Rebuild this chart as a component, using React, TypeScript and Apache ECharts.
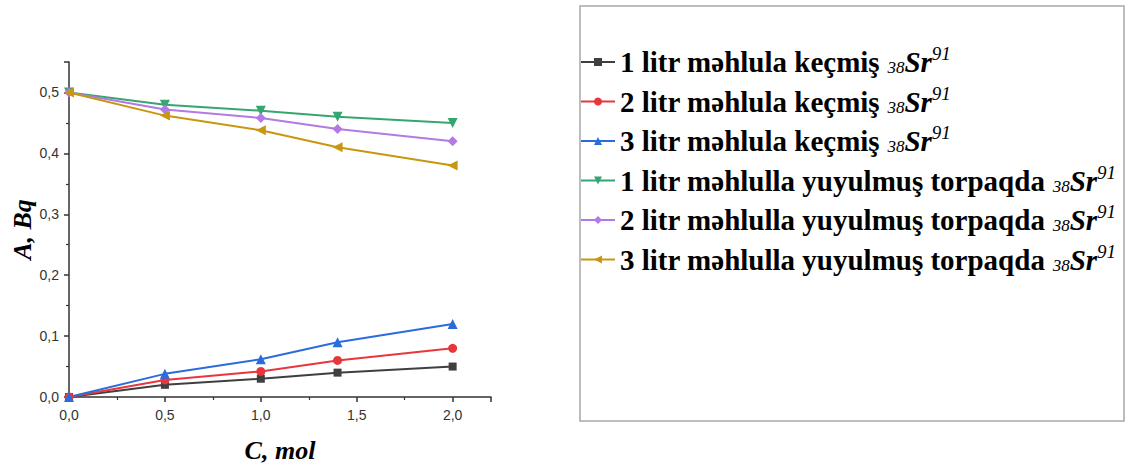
import React, { useEffect, useRef } from "react";
import * as echarts from "echarts";

const xValues = [0, 0.5, 1.0, 1.4, 2.0];

const seriesNames = [
  "1 litr məhlula keçmiş ",
  "2 litr məhlula keçmiş ",
  "3 litr məhlula keçmiş ",
  "1 litr məhlulla yuyulmuş torpaqda ",
  "2 litr məhlulla yuyulmuş torpaqda ",
  "3 litr məhlulla yuyulmuş torpaqda ",
];

const s1 = [0, 0.02, 0.03, 0.04, 0.05];
const s2 = [0, 0.028, 0.042, 0.06, 0.08];
const s3 = [0, 0.038, 0.062, 0.09, 0.12];
const s4 = [0.5, 0.48, 0.47, 0.46, 0.45];
const s5 = [0.5, 0.472, 0.458, 0.44, 0.42];
const s6 = [0.5, 0.462, 0.438, 0.41, 0.38];

const seriesValues = [s1, s2, s3, s4, s5, s6];
const colors = ["#3f3f3f", "#e8373c", "#2b6cdc", "#37a571", "#b379e4", "#c8960f"];
const symbols = ["rect", "circle", "triangle", "triangle", "diamond", "triangle"];
const symbolRotates = [0, 0, 0, 180, 0, 90];
const symbolSizes = [8, 9, 10, 10, 10, 10];

const fmt = (v: number) => v.toFixed(1).replace(".", ",");

export default function App() {
  const ref = useRef<HTMLDivElement>(null);
  useEffect(() => {
    if (!ref.current) return;
    const chart = echarts.init(ref.current, undefined, { renderer: "svg" });
    const axisLine = { lineStyle: { color: "#333", width: 1.5 } };
    const serif = "Liberation Serif";
    chart.setOption({
      animation: false,
      backgroundColor: "#fff",
      grid: { left: 69, top: 62, width: 422, height: 339, containLabel: false },
      graphic: [
        {
          type: "rect",
          z: 0,
          shape: { x: 580, y: 6, width: 544, height: 415 },
          style: { fill: "none", stroke: "#a8a8a8", lineWidth: 1.5 },
        },
      ],
      xAxis: {
        type: "value",
        min: 0,
        max: 2.2,
        interval: 0.5,
        name: "C, mol",
        nameLocation: "middle",
        nameGap: 40,
        nameTextStyle: {
          fontFamily: serif,
          fontWeight: "bold",
          fontStyle: "italic",
          fontSize: 26,
          color: "#000",
        },
        axisLine,
        axisTick: { show: true, inside: false, length: 5, lineStyle: { color: "#333", width: 1.5 } },
        minorTick: { show: true, splitNumber: 2, length: 3, lineStyle: { color: "#333", width: 1.2 } },
        splitLine: { show: false },
        minorSplitLine: { show: false },
        axisLabel: {
          showMaxLabel: false,
          margin: 11,
          color: "#333",
          fontFamily: "Liberation Sans",
          fontSize: 14,
          formatter: (v: number) => fmt(v),
        },
      },
      yAxis: {
        type: "value",
        min: 0,
        max: 0.55,
        interval: 0.1,
        name: "A, Bq",
        nameLocation: "middle",
        nameRotate: 90,
        nameGap: 31,
        nameTextStyle: {
          fontFamily: serif,
          fontWeight: "bold",
          fontStyle: "italic",
          fontSize: 26,
          color: "#000",
        },
        axisLine: { show: true, ...axisLine },
        axisTick: { show: true, inside: false, length: 5, lineStyle: { color: "#333", width: 1.5 } },
        minorTick: { show: true, splitNumber: 2, length: 3, lineStyle: { color: "#333", width: 1.2 } },
        splitLine: { show: false },
        minorSplitLine: { show: false },
        axisLabel: {
          showMaxLabel: false,
          margin: 10,
          color: "#333",
          fontFamily: "Liberation Sans",
          fontSize: 14,
          formatter: (v: number) => fmt(v),
        },
      },
      legend: {
        orient: "vertical",
        left: 580,
        top: 44,
        padding: 0,
        itemWidth: 34,
        itemHeight: 10,
        itemGap: 7,
        data: seriesNames,
        formatter: (name: string) => `{t|${name}}{sub|38}{i|Sr}{sup|91}`,
        textStyle: {
          color: "#000",
          rich: {
            t: {
              fontFamily: serif,
              fontWeight: "bold",
              fontSize: 29,
              lineHeight: 36,
              color: "#000",
            },
            sub: {
              fontFamily: serif,
              fontStyle: "italic",
              fontSize: 17,
              verticalAlign: "bottom",
              padding: [0, 0, 4, 0],
              color: "#000",
            },
            i: {
              fontFamily: serif,
              fontWeight: "bold",
              fontStyle: "italic",
              fontSize: 29,
              lineHeight: 36,
              color: "#000",
            },
            sup: {
              fontFamily: serif,
              fontStyle: "italic",
              fontSize: 19,
              verticalAlign: "top",
              color: "#000",
            },
          },
        },
      },
      series: seriesValues.map((vals, i) => ({
        name: seriesNames[i],
        type: "line",
        data: vals.map((v, j) => [xValues[j], v]),
        symbol: symbols[i],
        symbolRotate: symbolRotates[i],
        symbolSize: symbolSizes[i],
        showSymbol: true,
        lineStyle: { color: colors[i], width: 2 },
        itemStyle: { color: colors[i] },
        z: 3,
      })),
    });
    return () => chart.dispose();
  }, []);
  return (
    <div
      ref={ref}
      style={{ position: "fixed", left: 0, top: 0, width: 1130, height: 468 }}
    />
  );
}
